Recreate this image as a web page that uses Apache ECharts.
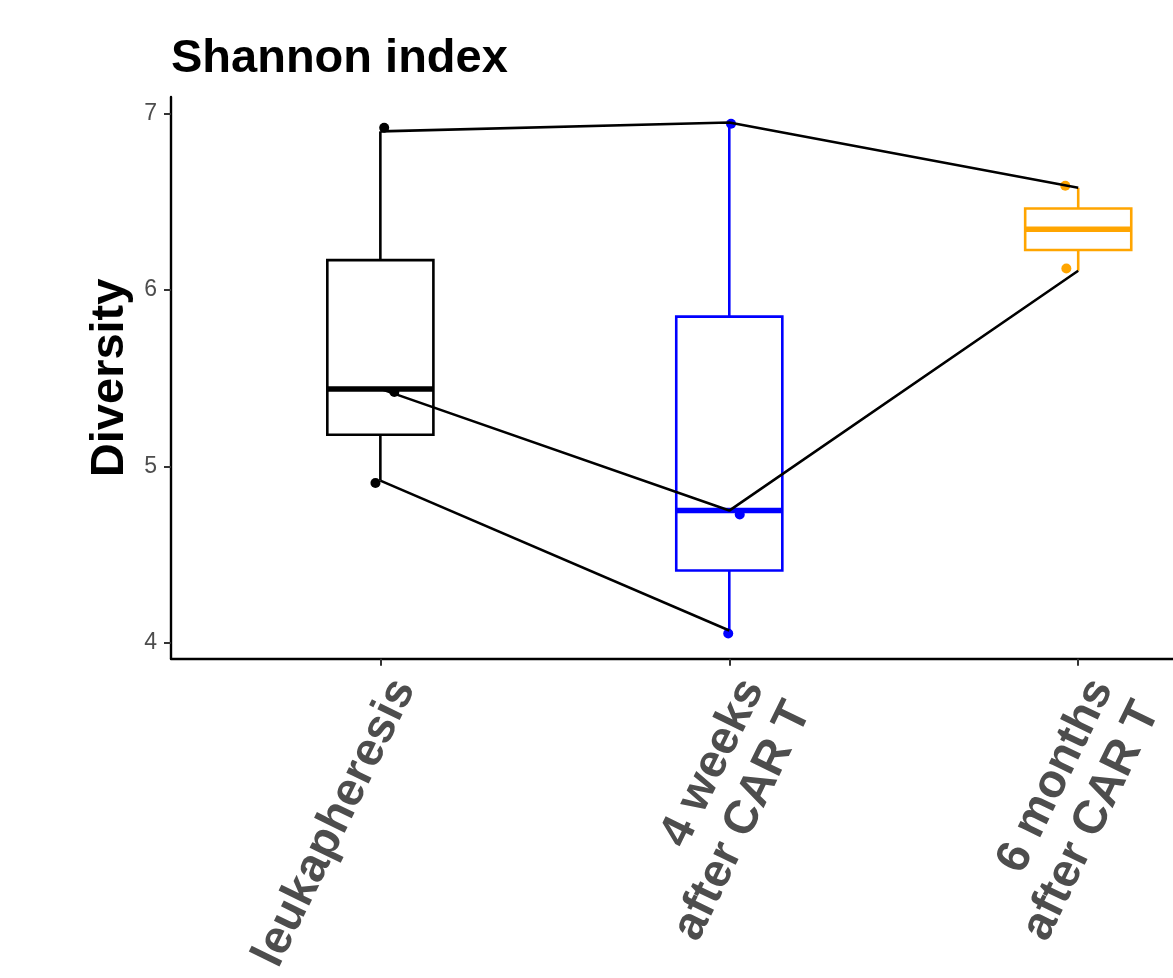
<!DOCTYPE html>
<html>
<head>
<meta charset="utf-8">
<script src="https://cdn.jsdelivr.net/npm/echarts@6/dist/echarts.min.js"></script>
<style>html,body{margin:0;padding:0;background:#fff}#c{width:1173px;height:978px}</style>
</head>
<body>
<div id="c"></div>
<script>
// ---- data ----
const categories = ['leukapheresis', '4 weeks\nafter CAR T', '6 months\nafter CAR T'];
const leukapheresis = [6.90, 5.44, 4.92];
const week4 = [6.95, 4.75, 4.07];
const month6 = [6.58, 6.11];
const groupColors = ['#000000', '#0000FF', '#FFA500'];
// jittered point positions (data units)
const jitterX = [[1.011, 1.040, 0.986], [2.005, 2.030, 1.997], [2.963, 2.966]];
const jitterY = [[6.921, 5.422, 4.906], [6.943, 4.728, 4.053], [6.592, 6.123]];
const yTicks = [4, 5, 6, 7];

const groups = [leukapheresis, week4, month6];

function quantile(arr, p) {
  const s = arr.slice().sort((a, b) => a - b);
  const h = (s.length - 1) * p;
  const lo = Math.floor(h), hi = Math.ceil(h);
  return s[lo] + (s[hi] - s[lo]) * (h - lo);
}
const boxData = groups.map((g, i) => [i + 1, quantile(g, 0), quantile(g, 0.25), quantile(g, 0.5), quantile(g, 0.75), quantile(g, 1), i]);

const halfW = 0.152;
function renderBox(params, api) {
  const x = api.value(0);
  const col = groupColors[api.value(6)];
  const pMin = api.coord([x, api.value(1)]);
  const pQ1 = api.coord([x, api.value(2)]);
  const pMed = api.coord([x, api.value(3)]);
  const pQ3 = api.coord([x, api.value(4)]);
  const pMax = api.coord([x, api.value(5)]);
  const left = api.coord([x - halfW, api.value(3)])[0];
  const right = api.coord([x + halfW, api.value(3)])[0];
  const lw = 2.6;
  return {
    type: 'group',
    children: [
      { type: 'line', shape: { x1: pMax[0], y1: pMax[1], x2: pQ3[0], y2: pQ3[1] }, style: { stroke: col, lineWidth: lw } },
      { type: 'line', shape: { x1: pQ1[0], y1: pQ1[1], x2: pMin[0], y2: pMin[1] }, style: { stroke: col, lineWidth: lw } },
      { type: 'rect', shape: { x: left, y: pQ3[1], width: right - left, height: pQ1[1] - pQ3[1] }, style: { fill: '#fff', stroke: col, lineWidth: lw } },
      { type: 'line', shape: { x1: left, y1: pMed[1], x2: right, y2: pMed[1] }, style: { stroke: col, lineWidth: 5.5 } }
    ]
  };
}

const series = [];
series.push({ type: 'custom', renderItem: renderBox, data: boxData, encode: { x: 0, y: [1, 5] }, silent: true, z: 1 });
groups.forEach((g, gi) => {
  series.push({
    type: 'scatter',
    data: jitterX[gi].map((xv, k) => [xv, jitterY[gi][k]]),
    symbol: 'circle', symbolSize: 10,
    itemStyle: { color: groupColors[gi], opacity: 1 },
    silent: true, z: 2
  });
});
// paired lines per patient
const nPatients = leukapheresis.length;
for (let p = 0; p < nPatients; p++) {
  const pts = [];
  groups.forEach((g, gi) => { if (g[p] !== undefined) pts.push([gi + 1, g[p]]); });
  series.push({
    type: 'line', data: pts, symbol: 'none', silent: true, z: 3,
    lineStyle: { color: '#000', width: 2.6 }
  });
}

const chart = echarts.init(document.getElementById('c'), null, { renderer: 'canvas' });
chart.setOption({
  animation: false,
  backgroundColor: '#fff',
  title: {
    text: 'Shannon index', left: 171, top: 36, padding: 0,
    textStyle: { fontFamily: 'Liberation Sans', fontSize: 47, fontWeight: 'bold', color: '#000' }
  },
  grid: { left: 171, right: 0, top: 97, bottom: 318, containLabel: false },
  xAxis: {
    type: 'value', min: 0.4, max: 3.2711,
    axisLine: { show: true, lineStyle: { color: '#000', width: 2.4 } },
    axisTick: { show: true, length: 7, lineStyle: { color: '#333', width: 2 }, customValues: [1, 2, 3] },
    axisLabel: {
      customValues: [1, 2, 3],
      formatter: v => categories[Math.round(v) - 1],
      rotate: 64, align: 'right', verticalAlign: 'top', margin: 12,
      fontFamily: 'Liberation Sans', fontSize: 47, fontWeight: 'bold', color: '#4d4d4d', lineHeight: 52
    },
    splitLine: { show: false }
  },
  yAxis: {
    type: 'value', min: 3.91, max: 7.095,
    name: 'Diversity', nameLocation: 'middle', nameRotate: 90, nameGap: 37,
    nameTextStyle: { fontFamily: 'Liberation Sans', fontSize: 47, fontWeight: 'bold', color: '#000' },
    axisLine: { show: true, lineStyle: { color: '#000', width: 2.4 } },
    axisTick: { show: true, length: 7, lineStyle: { color: '#333', width: 2 }, customValues: yTicks },
    axisLabel: {
      customValues: yTicks, margin: 14,
      fontFamily: 'Liberation Sans', fontSize: 23, color: '#4d4d4d'
    },
    splitLine: { show: false }
  },
  series: series
});
</script>
</body>
</html>
